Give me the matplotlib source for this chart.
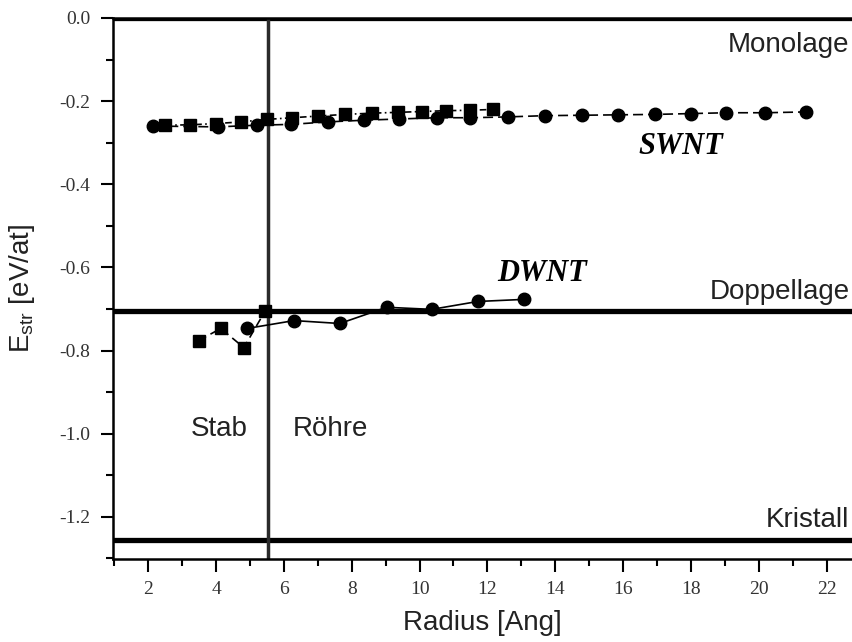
import matplotlib
matplotlib.use("Agg")
import matplotlib.pyplot as plt
from matplotlib.ticker import MultipleLocator, FormatStrFormatter

# SWNT data
swnt_sq_x = [2.5, 3.24, 4.0, 4.74, 5.5, 6.24, 7.0, 7.8, 8.6, 9.37, 10.08, 10.79, 11.5, 12.17]
swnt_sq_y = [-0.258, -0.257, -0.254, -0.250, -0.244, -0.240, -0.236, -0.232, -0.229, -0.227, -0.225, -0.223, -0.222, -0.220]
swnt_ci_x = [2.15, 4.05, 5.2, 6.2, 7.3, 8.35, 9.4, 10.5, 11.5, 12.6, 13.7, 14.8, 15.85, 16.95, 18.0, 19.05, 20.2, 21.4]
swnt_ci_y = [-0.260, -0.262, -0.258, -0.256, -0.250, -0.246, -0.243, -0.240, -0.240, -0.238, -0.235, -0.234, -0.233, -0.232, -0.230, -0.228, -0.228, -0.226]

# DWNT data
dwnt_sq_x = [3.49, 4.14, 4.82, 5.44]
dwnt_sq_y = [-0.776, -0.747, -0.793, -0.706]
dwnt_ci_x = [4.91, 6.30, 7.65, 9.03, 10.36, 11.72, 13.08]
dwnt_ci_y = [-0.747, -0.728, -0.735, -0.696, -0.701, -0.682, -0.677]

# reference levels
ref_names = ["Monolage", "Doppellage", "Kristall"]
ref_levels = [0.0, -0.705, -1.255]
boundary_x = 5.53

fig = plt.figure(figsize=(8.53, 6.42), dpi=100)
ax = fig.add_axes([0.132, 0.129, 0.868, 0.843])

ax.plot(swnt_sq_x, swnt_sq_y, color="black", ls=(0, (4, 2, 1, 2)), lw=1.2,
        marker="s", ms=8, mfc="black", mec="black", zorder=3)
ax.plot(swnt_ci_x, swnt_ci_y, color="black", ls=(0, (6, 3)), lw=1.2,
        marker="o", ms=9, mfc="black", mec="black", zorder=3)
ax.plot(dwnt_sq_x, dwnt_sq_y, color="black", ls=(0, (5, 3)), lw=1.2,
        marker="s", ms=8, mfc="black", mec="black", zorder=3)
ax.plot(dwnt_ci_x, dwnt_ci_y, color="black", ls="-", lw=1.2,
        marker="o", ms=9, mfc="black", mec="black", zorder=3)

for lvl in ref_levels:
    ax.axhline(lvl, color="black", lw=3.8, zorder=2)
ax.axvline(boundary_x, color="#2a2a2a", lw=2.5, zorder=2)

ax.set_xlim(0.95, 22.78)
ax.set_ylim(-1.302, 0.0)

ax.spines["right"].set_visible(False)
for s in ["left", "bottom", "top"]:
    ax.spines[s].set_linewidth(1.8)

ax.xaxis.set_major_locator(MultipleLocator(2))
ax.xaxis.set_minor_locator(MultipleLocator(1))
ax.yaxis.set_major_locator(MultipleLocator(0.2))
ax.yaxis.set_minor_locator(MultipleLocator(0.1))
ax.yaxis.set_major_formatter(FormatStrFormatter("%.1f"))
ax.tick_params(which="major", direction="out", length=9, width=1.5)
ax.tick_params(which="minor", direction="out", length=5, width=1.5)
ax.tick_params(axis="both", which="major", labelsize=14, pad=7, labelcolor="#333333")
for lab in ax.get_xticklabels() + ax.get_yticklabels():
    lab.set_fontfamily("Liberation Serif")

ax.set_xlabel("Radius [Ang]", fontsize=20, family="Liberation Sans", labelpad=8, color="#222222")
ax.set_ylabel(r"E$_{\mathregular{str}}$ [eV/at]", fontsize=20, family="Liberation Sans", labelpad=16, color="#222222")

sans = dict(fontsize=20, family="Liberation Sans", color="#222222")
ax.text(0.995, 0.975, "Monolage", transform=ax.transAxes, ha="right", va="top", **sans)
ax.text(22.68, ref_levels[1] + 0.015, "Doppellage", ha="right", va="bottom", **sans)
ax.text(22.68, ref_levels[2] + 0.015, "Kristall", ha="right", va="bottom", **sans)
ax.text(3.25, -0.99, "Stab", ha="left", va="center", **sans)
ax.text(6.25, -0.99, "Röhre", ha="left", va="center", **sans)

ser = dict(fontsize=22, family="Liberation Serif", weight="bold", style="italic")
ax.text(16.45, -0.31, "SWNT", ha="left", va="center", **ser)
ax.text(12.3, -0.615, "DWNT", ha="left", va="center", **ser)

fig.savefig("out.png", dpi=100)
